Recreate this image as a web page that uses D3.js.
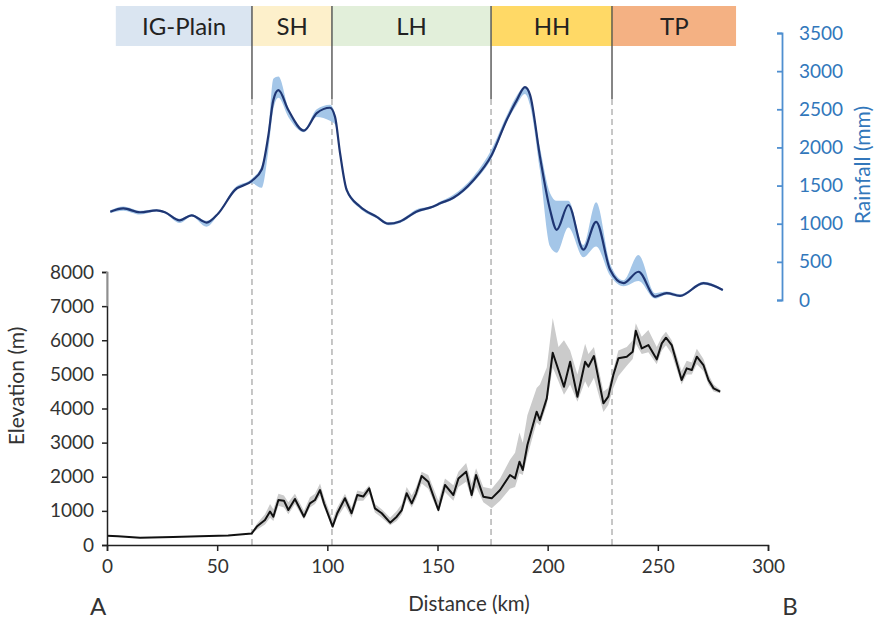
<!DOCTYPE html>
<html>
<head>
<meta charset="utf-8">
<script src="https://cdn.jsdelivr.net/npm/d3@7"></script>
<style>
  body { margin: 0; background: #fff; }
  svg { font-family: Lato, "Open Sans", sans-serif; }
</style>
</head>
<body>
<div id="chart"></div>
<script>
// regions along the transect
const regionNames = ['IG-Plain', 'SH', 'LH', 'HH', 'TP'];
const regionEdges = [4, 66, 102, 174.5, 229.5, 285.5];
const regionColors = ['#dae5f1', '#fdf0cb', '#e2efda', '#ffd966', '#f4b183'];
const boundaryKm = [65.8, 102.1, 174.3, 229.2];

// rainfall (mm): mean with min/max band
const rainKm = [1.5, 7.4, 15, 22.5, 26.3, 33, 38.4, 45.2, 50.5, 58, 65.7, 70.2, 73.2, 75.5, 77.8, 82.3, 89.4, 95.2, 101.2, 103.5, 105.8, 108.8, 114.8, 122.4, 127.7, 133, 140.6, 148.1, 151.2, 157.2, 166.3, 174.6, 181.4, 186, 189.7, 192, 196.5, 201.1, 204.1, 209.4, 216.2, 222, 228.3, 234.4, 241.2, 248.8, 254, 260.1, 270.7, 279.5];
const rainMm = [1157, 1200, 1150, 1175, 1150, 1045, 1110, 1015, 1135, 1440, 1560, 1710, 2150, 2620, 2750, 2490, 2220, 2450, 2520, 2400, 1920, 1440, 1225, 1090, 1000, 1030, 1160, 1225, 1267, 1340, 1570, 1900, 2360, 2620, 2790, 2690, 1880, 1180, 920, 1245, 660, 1025, 400, 220, 370, 45, 90, 55, 220, 130];
const rainLo = [1140, 1170, 1120, 1160, 1135, 1010, 1095, 960, 1120, 1420, 1530, 1470, 1950, 2500, 2650, 2400, 2200, 2400, 2350, 2300, 1880, 1420, 1200, 1070, 980, 1010, 1140, 1210, 1250, 1320, 1540, 1860, 2330, 2560, 2700, 2550, 1700, 700, 620, 950, 560, 700, 320, 180, 250, 20, 70, 40, 200, 115];
const rainHi = [1175, 1225, 1170, 1190, 1165, 1065, 1125, 1040, 1150, 1470, 1590, 1760, 2200, 2900, 2930, 2520, 2240, 2500, 2560, 2440, 1960, 1480, 1245, 1110, 1020, 1050, 1190, 1240, 1290, 1380, 1620, 1980, 2420, 2680, 2800, 2700, 2000, 1400, 1300, 1300, 720, 1280, 480, 260, 590, 90, 110, 75, 240, 145];

// elevation (m): mean with min/max band
const eleKm = [0, 5, 15, 30, 42, 55, 65.7, 68, 71.7, 74, 75.5, 77.8, 80.3, 82.3, 85.3, 89.4, 92.1, 94.4, 96.7, 98.5, 102.4, 104.5, 108, 111, 113.6, 116.3, 119, 121.6, 124.7, 128.5, 131.5, 133.8, 136, 138.3, 140.3, 142.8, 145.8, 150.4, 153.4, 157.2, 159.5, 163, 165.5, 167.5, 170.8, 174.6, 178.4, 182.9, 185.2, 187.2, 188.7, 190.8, 195, 196.5, 199.6, 202.3, 204.9, 207.4, 210.2, 213.5, 217, 218.5, 221, 225.3, 227.5, 229.8, 232.1, 235.9, 238.6, 240, 242.7, 245.7, 249.5, 251.8, 253.7, 256.3, 260.8, 263.1, 265.4, 267.7, 270.7, 273, 275.3, 278.3];
const eleM = [270, 260, 215, 235, 260, 280, 340, 540, 730, 980, 830, 1320, 1300, 1025, 1350, 830, 1220, 1320, 1610, 1220, 540, 930, 1370, 930, 1465, 1420, 1660, 1075, 930, 655, 830, 1025, 1515, 1220, 1515, 2020, 1855, 1025, 1760, 1465, 1950, 2150, 1465, 2050, 1416, 1367, 1611, 2051, 1953, 2442, 2198, 2930, 3906, 3662, 4298, 5635, 5127, 4639, 5371, 4346, 5371, 5225, 5538, 4151, 4346, 4981, 5470, 5518, 5664, 6280, 5762, 5860, 5440, 5909, 6075, 5860, 4835, 5177, 5127, 5518, 5274, 4835, 4590, 4493];
const eleLo = [270, 260, 215, 235, 260, 280, 320, 450, 600, 800, 700, 1150, 1100, 900, 1200, 750, 1100, 1200, 1450, 1100, 500, 800, 1150, 800, 1300, 1300, 1500, 950, 800, 580, 700, 900, 1350, 1100, 1350, 1800, 1650, 950, 1550, 1300, 1700, 1850, 1350, 1700, 1250, 1080, 1300, 1650, 1700, 2100, 2050, 2600, 3600, 3500, 4100, 5200, 4800, 4400, 4700, 4200, 4800, 4600, 4900, 3900, 4100, 4600, 4950, 5250, 5450, 5900, 5600, 5650, 5300, 5700, 5850, 5600, 4700, 5000, 5000, 5300, 5100, 4700, 4500, 4450];
const eleHi = [270, 260, 215, 235, 260, 280, 360, 620, 900, 1200, 1050, 1500, 1450, 1250, 1500, 1000, 1400, 1500, 1800, 1400, 750, 1100, 1500, 1100, 1600, 1550, 1750, 1200, 1050, 800, 1000, 1200, 1700, 1450, 1700, 2150, 2050, 1300, 1950, 1750, 2150, 2400, 1800, 2250, 1700, 1650, 1950, 2500, 2700, 3300, 3000, 3800, 4600, 4700, 5200, 6650, 5800, 6000, 5700, 5000, 5900, 5600, 5800, 4500, 4600, 5150, 5700, 5800, 6000, 6500, 6100, 6300, 5800, 6100, 6250, 6000, 5100, 5400, 5350, 5750, 5450, 5000, 4700, 4550];

const xTicks = [0, 50, 100, 150, 200, 250, 300];
const eleTicks = [0, 1000, 2000, 3000, 4000, 5000, 6000, 7000, 8000];
const rainTicks = [0, 500, 1000, 1500, 2000, 2500, 3000, 3500];

const width = 877, height = 619;
const svg = d3.select('#chart').append('svg')
  .attr('width', width)
  .attr('height', height);

const x = d3.scaleLinear().domain([0, 300]).range([107, 768]);
const yEle = d3.scaleLinear().domain([0, 8000]).range([545, 272]);
const yRain = d3.scaleLinear().domain([0, 3500]).range([300, 33]);

const bandTop = 6, bandBottom = 46;

// region strip
regionNames.forEach((name, i) => {
  const x0 = x(regionEdges[i]), x1 = x(regionEdges[i + 1]);
  svg.append('rect')
    .attr('x', x0).attr('y', bandTop)
    .attr('width', x1 - x0).attr('height', bandBottom - bandTop)
    .attr('fill', regionColors[i]);
  svg.append('text')
    .attr('x', (x0 + x1) / 2).attr('y', 35)
    .attr('text-anchor', 'middle')
    .style('font-size', '24px')
    .attr('fill', '#222')
    .text(name);
});

// boundary lines: solid under the strip, dashed through the plot
boundaryKm.forEach(k => {
  svg.append('line')
    .attr('x1', x(k)).attr('x2', x(k))
    .attr('y1', bandTop).attr('y2', 99)
    .attr('stroke', '#444').attr('stroke-width', 1.3);
  svg.append('line')
    .attr('x1', x(k)).attr('x2', x(k))
    .attr('y1', 99).attr('y2', yEle(0))
    .attr('stroke', '#b4b4b4').attr('stroke-width', 1.5)
    .attr('stroke-dasharray', '6,4');
});

// rainfall
const rain = rainKm.map((k, i) => ({ k, v: rainMm[i], lo: rainLo[i], hi: rainHi[i] }));
svg.append('path')
  .datum(rain)
  .attr('d', d3.area().x(d => x(d.k)).y0(d => yRain(d.lo)).y1(d => yRain(d.hi)).curve(d3.curveMonotoneX))
  .attr('fill', '#a4c6e8');
svg.append('path')
  .datum(rain)
  .attr('d', d3.line().x(d => x(d.k)).y(d => yRain(d.v)).curve(d3.curveMonotoneX))
  .attr('fill', 'none')
  .attr('stroke', '#1f3673')
  .attr('stroke-width', 2.2);

// elevation
const ele = eleKm.map((k, i) => ({ k, v: eleM[i], lo: eleLo[i], hi: eleHi[i] }));
svg.append('path')
  .datum(ele)
  .attr('d', d3.area().x(d => x(d.k)).y0(d => yEle(d.lo)).y1(d => yEle(d.hi)))
  .attr('fill', '#cbcbcb');
svg.append('path')
  .datum(ele)
  .attr('d', d3.line().x(d => x(d.k)).y(d => yEle(d.v)))
  .attr('fill', 'none')
  .attr('stroke', '#111')
  .attr('stroke-width', 2)
  .attr('stroke-linejoin', 'round');

// axes
const fmt = d3.format('d');
const gx = svg.append('g')
  .attr('transform', `translate(0,${yEle(0)})`)
  .call(d3.axisBottom(x).tickValues(xTicks).tickFormat(fmt).tickSize(6).tickPadding(9));
const gy = svg.append('g')
  .attr('transform', `translate(${x(0)},0)`)
  .call(d3.axisLeft(yEle).tickValues(eleTicks).tickFormat(fmt).tickSize(5).tickPadding(8));
[gx, gy].forEach(g => {
  g.selectAll('path, line').attr('stroke', '#222').attr('stroke-width', 1.5);
  g.selectAll('text').attr('fill', '#333').style('font-size', '19px').style('font-family', 'Lato, sans-serif');
});
// upper part of the elevation axis is drawn lighter
svg.append('line')
  .attr('x1', x(0)).attr('x2', x(0))
  .attr('y1', yEle(8000)).attr('y2', yEle(7000))
  .attr('stroke', '#aaa').attr('stroke-width', 1.6);

const gr = svg.append('g')
  .attr('transform', 'translate(782,0)')
  .call(d3.axisRight(yRain).tickValues(rainTicks).tickFormat(fmt).tickSize(-5).tickPadding(17));
gr.selectAll('path, line').attr('stroke', '#4f8fd0').attr('stroke-width', 1.8);
gr.selectAll('text').attr('fill', '#3277bb').style('font-size', '19px').style('font-family', 'Lato, sans-serif');

// axis titles
svg.append('text')
  .attr('transform', 'translate(24,386) rotate(-90)')
  .attr('text-anchor', 'middle')
  .style('font-size', '21px')
  .attr('fill', '#333')
  .text('Elevation (m)');
svg.append('text')
  .attr('transform', 'translate(870,165) rotate(-90)')
  .attr('text-anchor', 'middle')
  .style('font-size', '21px')
  .attr('fill', '#3277bb')
  .text('Rainfall (mm)');
svg.append('text')
  .attr('x', 469).attr('y', 611)
  .attr('text-anchor', 'middle')
  .style('font-size', '20.5px')
  .attr('fill', '#333')
  .text('Distance (km)');
svg.append('text')
  .attr('x', 98).attr('y', 615)
  .attr('text-anchor', 'middle')
  .style('font-size', '24px')
  .attr('fill', '#333')
  .text('A');
svg.append('text')
  .attr('x', 790).attr('y', 615)
  .attr('text-anchor', 'middle')
  .style('font-size', '24px')
  .attr('fill', '#333')
  .text('B');
</script>
</body>
</html>
